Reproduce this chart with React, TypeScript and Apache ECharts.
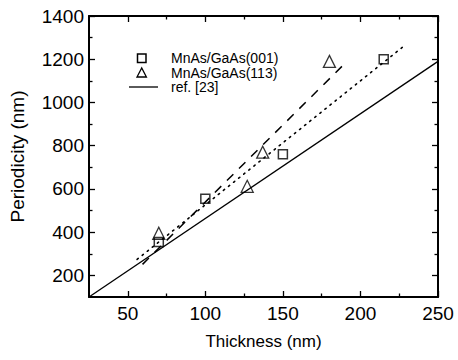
import React, { useEffect, useRef } from "react";
import * as echarts from "echarts";

const sq001: [number, number][] = [
  [70, 355],
  [100, 555],
  [150, 760],
  [215, 1200],
];
const tri113: [number, number][] = [
  [70, 395],
  [127, 612],
  [137, 770],
  [180, 1190],
];
const refLine: [number, number][] = [
  [25, 100],
  [250, 1190],
];
const fit001: [number, number][] = [
  [56, 274],
  [227, 1255],
];
const fit113: [number, number][] = [
  [59.5, 251],
  [191, 1188],
];
const xMajor = [50, 100, 150, 200, 250];
const xMinor = [75, 125, 175, 225];
const yMajor = [200, 400, 600, 800, 1000, 1200, 1400];
const yMinor = [300, 500, 700, 900, 1100, 1300];
const legendNames = ["MnAs/GaAs(001)", "MnAs/GaAs(113)", "ref. [23]"];

const FONT = "'Liberation Sans', Arial, Helvetica, sans-serif";

export default function App() {
  const ref = useRef<HTMLDivElement>(null);
  useEffect(() => {
    document.body.style.margin = "0";
    if (!ref.current) return;
    const chart = echarts.init(ref.current, undefined, { renderer: "svg" });
    const lineW = 2;
    const mkX = (pos: "bottom" | "top", major: boolean, labels: boolean) => ({
      type: "value",
      position: pos,
      min: 25,
      max: 250,
      axisLine: { show: major, lineStyle: { color: "#000", width: lineW } },
      axisTick: {
        show: true,
        inside: true,
        length: major ? 6 : 3.5,
        customValues: major ? xMajor : xMinor,
        lineStyle: { color: "#000", width: 1.3 },
      },
      axisLabel: {
        show: labels,
        customValues: xMajor,
        formatter: (v: number) => String(v),
        color: "#000",
        fontSize: 19,
        fontFamily: FONT,
        margin: 7,
      },
      splitLine: { show: false },
      name: labels ? "Thickness (nm)" : "",
      nameLocation: "middle",
      nameGap: 36,
      nameTextStyle: { color: "#000", fontSize: 17, fontFamily: FONT },
    });
    const mkY = (pos: "left" | "right", major: boolean, labels: boolean) => ({
      type: "value",
      position: pos,
      min: 100,
      max: 1400,
      axisLine: { show: major, lineStyle: { color: "#000", width: lineW } },
      axisTick: {
        show: true,
        inside: true,
        length: major ? 6 : 3.5,
        customValues: major ? yMajor : yMinor,
        lineStyle: { color: "#000", width: 1.3 },
      },
      axisLabel: {
        show: labels,
        customValues: yMajor,
        formatter: (v: number) => String(v),
        color: "#000",
        fontSize: 19,
        fontFamily: FONT,
        margin: 5,
      },
      splitLine: { show: false },
      name: labels ? "Periodicity (nm)" : "",
      nameLocation: "middle",
      nameGap: 62,
      nameTextStyle: { color: "#000", fontSize: 19, fontFamily: FONT },
    });

    chart.setOption({
      animation: false,
      backgroundColor: "#fff",
      grid: { left: 88, top: 16, right: 20, bottom: 63, containLabel: false },
      xAxis: [
        mkX("bottom", true, true),
        mkX("bottom", false, false),
        mkX("top", true, false),
        mkX("top", false, false),
      ],
      yAxis: [
        mkY("left", true, true),
        mkY("left", false, false),
        mkY("right", true, false),
        mkY("right", false, false),
      ],
      series: [
        {
          name: legendNames[2],
          type: "line",
          data: refLine,
          showSymbol: false,
          lineStyle: { color: "#000", width: 1.3 },
          z: 2,
        },
        {
          name: "fit001",
          type: "line",
          data: fit001,
          showSymbol: false,
          lineStyle: { color: "#000", width: 1.6, type: [1.5, 5], cap: "round" },
          z: 2,
        },
        {
          name: "fit113",
          type: "line",
          data: fit113,
          showSymbol: false,
          lineStyle: { color: "#000", width: 1.5, type: [9, 8] },
          z: 2,
        },
        {
          name: legendNames[0],
          type: "scatter",
          data: sq001,
          symbol: "rect",
          symbolSize: 9,
          itemStyle: { color: "rgba(255,255,255,0)", borderColor: "#000", borderWidth: 1.5 },
          z: 3,
        },
        {
          name: legendNames[1],
          type: "scatter",
          data: tri113,
          symbol: "triangle",
          symbolSize: 12,
          itemStyle: { color: "rgba(255,255,255,0)", borderColor: "#000", borderWidth: 1.3 },
          z: 3,
        },
      ],
      graphic: [
        {
          type: "rect",
          shape: { x: 137.5, y: 54, width: 8.5, height: 8.5 },
          style: { fill: "none", stroke: "#000", lineWidth: 1.5 },
        },
        {
          type: "polygon",
          shape: { points: [[141.7, 68], [137, 77], [146.4, 77]] },
          style: { fill: "none", stroke: "#000", lineWidth: 1.3 },
        },
        {
          type: "line",
          shape: { x1: 129, y1: 87, x2: 158, y2: 87 },
          style: { stroke: "#000", lineWidth: 1.3 },
        },
        {
          type: "text",
          x: 171,
          y: 58,
          style: { text: legendNames[0], fill: "#000", fontSize: 14, lineHeight: 14, fontFamily: FONT, verticalAlign: "middle" },
        },
        {
          type: "text",
          x: 171,
          y: 72.5,
          style: { text: legendNames[1], fill: "#000", fontSize: 14, lineHeight: 14, fontFamily: FONT, verticalAlign: "middle" },
        },
        {
          type: "text",
          x: 171,
          y: 87,
          style: { text: legendNames[2], fill: "#000", fontSize: 14, lineHeight: 14, fontFamily: FONT, verticalAlign: "middle" },
        },
      ],
    });
    return () => chart.dispose();
  }, []);
  return <div ref={ref} style={{ width: 458, height: 360 }} />;
}
